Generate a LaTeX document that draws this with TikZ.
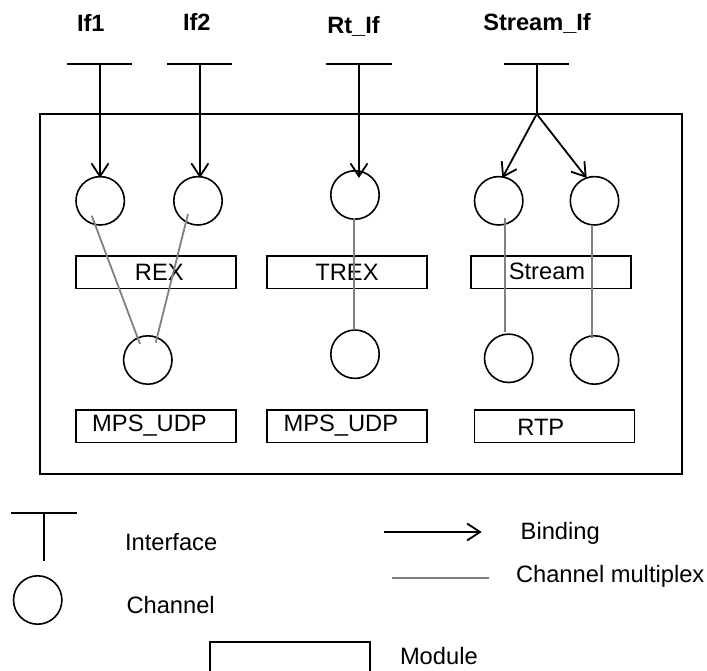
\documentclass[tikz,border=0pt]{standalone}
\usepackage{fontspec}
\setmainfont{Liberation Sans}
\usetikzlibrary{arrows.meta}
\definecolor{muxgray}{HTML}{808080}
\tikzset{
  blk/.style={line width=1.8pt,black},
  bind/.style={blk,-{Straight Barb[length=13pt,width=17pt,line width=1.8pt]}},
  mux/.style={line width=1.8pt,muxgray},
  chan/.style={circle,draw,line width=1.6pt,minimum size=48.4pt,inner sep=0pt,outer sep=0pt},
  modbox/.style={rectangle,draw,line width=1.8pt,minimum width=160pt,minimum height=32.4pt,inner sep=0pt,outer sep=0pt},
  txt/.style={anchor=base west,inner sep=0pt,outer sep=0pt,font=\fontsize{23.7}{28}\selectfont},
  ctxt/.style={anchor=base,inner sep=0pt,outer sep=0pt,font=\fontsize{23.7}{28}\selectfont},
  head/.style={anchor=base west,inner sep=0pt,outer sep=0pt,font=\fontsize{23.6}{28}\selectfont\bfseries},
}
\begin{document}
\begin{tikzpicture}[x=1pt,y=-1pt]
\useasboundingbox (0,0) rectangle (707,671);
% outer module
\node[rectangle,draw,line width=1.8pt,minimum width=642pt,minimum height=360pt,inner sep=0pt,outer sep=0pt] (outer) at (361,294) {};
% headers
\node[head] (hif1) at (77,31.7) {If1};
\node[head] (hif2) at (183,31) {If2};
\node[head] (hrt) at (327.3,33.7) {Rt\_If};
\node[head] (hst) at (483.3,31) {Stream\_If};
% interface bars
\coordinate (i1l) at (67,64); \coordinate (i1r) at (132,64); \coordinate (i1) at (100,64);
\coordinate (i2l) at (167,64); \coordinate (i2r) at (232,64); \coordinate (i2) at (199.9,64);
\coordinate (i3l) at (326,64); \coordinate (i3r) at (392,64); \coordinate (i3) at (359,64);
\coordinate (i4l) at (504,64); \coordinate (i4r) at (569,64); \coordinate (i4) at (536.7,64);
\coordinate (fork) at (536.7,114);
\draw[blk] (i1l) -- (i1r);
\draw[blk] (i2l) -- (i2r);
\draw[blk] (i3l) -- (i3r);
\draw[blk] (i4l) -- (i4r);
\draw[blk] (i4) -- (fork);
% channels
\node[chan] (c1) at (100.2,200.8) {};
\node[chan] (c2) at (198,200.8) {};
\node[chan] (c3) at (355,195) {};
\node[chan] (c4) at (498.7,200.8) {};
\node[chan] (c5) at (594.5,200.8) {};
\node[chan] (c6) at (147.8,360) {};
\node[chan] (c7) at (355,354.2) {};
\node[chan] (c8) at (508.7,358.3) {};
\node[chan] (c9) at (594.5,360) {};
% modules
\node[modbox] (rex) at (156,272.3) {};
\node[modbox] (trex) at (347,272.3) {};
\node[modbox] (stream) at (551,272.3) {};
\node[modbox] (mps1) at (156,426.2) {};
\node[modbox] (mps2) at (347,426.2) {};
\node[modbox] (rtp) at (554.5,426.2) {};
\node[ctxt] (lrex) at (159.3,280) {REX};
\node[ctxt] (ltrex) at (347,280) {TREX};
\node[ctxt] (lstream) at (547,279.5) {Stream};
\node[ctxt] (lmps1) at (149.5,431.7) {MPS\_UDP};
\node[ctxt] (lmps2) at (340.8,431) {MPS\_UDP};
\node[ctxt] (lrtp) at (540.8,435.7) {RTP};
% bindings
\coordinate (t1) at (100,178); \coordinate (t2) at (199.9,178); \coordinate (t3) at (359,178);
\coordinate (t4) at (502.3,178); \coordinate (t5) at (586.7,178);
\draw[bind] (i1) -- (t1);
\draw[bind] (i2) -- (t2);
\draw[bind] (i3) -- (t3);
\draw[bind] (fork) -- (t4);
\draw[bind] (fork) -- (t5);
% multiplex
\coordinate (m1a) at (91.7,215.7); \coordinate (m1b) at (140,344);
\coordinate (m2a) at (188,214); \coordinate (m2b) at (155.7,342.7);
\coordinate (m3a) at (354,218); \coordinate (m3b) at (354,330);
\coordinate (m4a) at (504.7,218); \coordinate (m4b) at (504.7,331.5);
\coordinate (m5a) at (592,225); \coordinate (m5b) at (592,338);
\draw[mux] (m1a) -- (m1b);
\draw[mux] (m2a) -- (m2b);
\draw[mux] (m3a) -- (m3b);
\draw[mux] (m4a) -- (m4b);
\draw[mux] (m5a) -- (m5b);
% legend
\coordinate (li) at (44,512.7); \coordinate (lil) at (11.3,512.7); \coordinate (lir) at (77,512.7); \coordinate (lib) at (44,561);
\draw[blk] (lil) -- (lir);
\draw[blk] (li) -- (lib);
\node[txt] (tif) at (125,550) {Interface};
\node[chan] (lc) at (37.7,600) {};
\node[txt] (tch) at (126.5,613.3) {Channel};
\coordinate (ba) at (384,532); \coordinate (bb) at (481.7,532);
\draw[bind] (ba) -- (bb);
\node[txt] (tbi) at (520.7,539.3) {Binding};
\coordinate (ma) at (392.3,577.7); \coordinate (mb) at (489.3,577.7);
\draw[mux] (ma) -- (mb);
\node[txt] (tmu) at (516,582.3) {Channel multiplex};
\coordinate (mo1) at (210,671); \coordinate (mo2) at (210,641.7); \coordinate (mo3) at (370,641.7); \coordinate (mo4) at (370,671);
\draw[blk] (mo1) -- (mo2) -- (mo3) -- (mo4);
\node[txt] (tmo) at (400,664) {Module};
\end{tikzpicture}
\end{document}
